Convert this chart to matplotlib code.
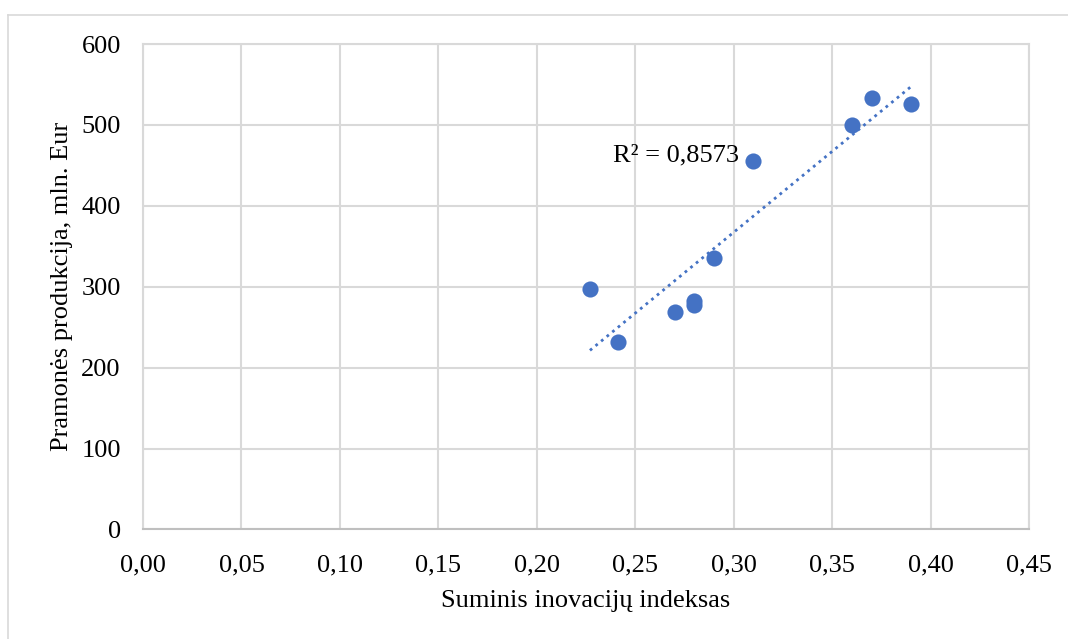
import numpy as np
import matplotlib
matplotlib.use('Agg')
from matplotlib import pyplot as plt
from matplotlib.lines import Line2D

# data
inov_index = [0.227, 0.241, 0.270, 0.280, 0.280, 0.290, 0.310, 0.360, 0.370, 0.390]
produkcija = [297, 232, 269, 283, 277, 336, 456, 500, 533, 526]
x_ticks = [0.00, 0.05, 0.10, 0.15, 0.20, 0.25, 0.30, 0.35, 0.40, 0.45]
y_ticks = [0, 100, 200, 300, 400, 500, 600]
r2_text = 'R² = 0,8573'

plt.rcParams['font.family'] = ['Liberation Serif', 'DejaVu Serif']
fs = 19
blue = '#4472C4'
grid = '#d9d9d9'

fig = plt.figure(figsize=(10.68, 6.39), dpi=100)
ax = fig.add_axes([0.1339, 0.1714, 0.8296, 0.7597])

# outer chart border (top and left visible)
fig.add_artist(Line2D([8/1068, 1], [1-15/639, 1-15/639], color=grid, lw=1.2))
fig.add_artist(Line2D([8/1068, 8/1068], [0, 1-15/639], color=grid, lw=1.2))

ax.scatter(inov_index, produkcija, s=135, color=blue, zorder=3, linewidths=0)

# linear trend line
k, b = np.polyfit(inov_index, produkcija, 1)
xs = np.array([min(inov_index), max(inov_index)])
ax.plot(xs, k*xs + b, color=blue, lw=2.0, linestyle=(0, (1, 1.6)), zorder=2)

ax.text(0.2385, 462, r2_text, fontsize=fs, ha='left', va='center')

ax.set_xlim(0, 0.45)
ax.set_ylim(0, 600)
ax.set_xticks(x_ticks)
ax.set_xticklabels([('%.2f' % v).replace('.', ',') for v in x_ticks], fontsize=fs)
ax.set_yticks(y_ticks)
ax.set_yticklabels([str(v) for v in y_ticks], fontsize=fs)
ax.tick_params(length=0)
ax.tick_params(axis='y', pad=16)
ax.tick_params(axis='x', pad=18)
ax.grid(True, color=grid, lw=1.5)
ax.set_axisbelow(True)
for s in ['top', 'right', 'left']:
    ax.spines[s].set_color(grid)
    ax.spines[s].set_linewidth(1.5)
ax.spines['bottom'].set_color('#bfbfbf')
ax.spines['bottom'].set_linewidth(1.5)

ax.set_xlabel('Suminis inovacijų indeksas', fontsize=fs, labelpad=10)
ax.set_ylabel('Pramonės produkcija, mln. Eur', fontsize=fs, labelpad=6)

fig.savefig('out.png', dpi=100)
